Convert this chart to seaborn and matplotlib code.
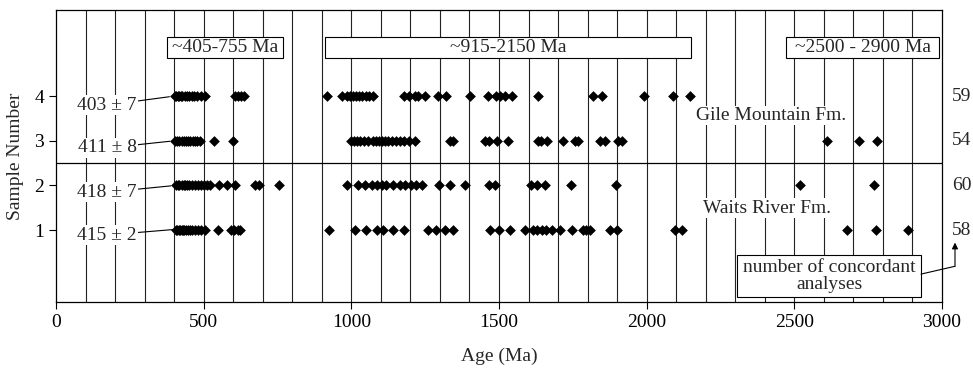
import matplotlib
matplotlib.use("Agg")
import matplotlib.pyplot as plt
import matplotlib.transforms as mtransforms
from matplotlib.patches import Rectangle
import numpy as np
import pandas as pd
import seaborn as sns

# ---------------- data ----------------
sample_numbers = [1, 2, 3, 4]

ages_sample1 = [405, 410, 415, 420, 425, 430, 435, 440, 447, 455, 462, 470, 480, 490, 503,
                549, 592, 602, 615, 622, 924,
                1012, 1050, 1087, 1107, 1141, 1178, 1260, 1287, 1317, 1345,
                1470, 1500, 1537, 1588, 1615, 1630, 1645, 1660, 1680, 1707, 1747,
                1785, 1795, 1808, 1876, 1900, 2096, 2120, 2679, 2777, 2885]
ages_sample2 = [406, 412, 418, 425, 432, 438, 445, 452, 460, 470, 480, 490, 500, 510, 522,
                552, 579, 606, 674, 687, 755, 985,
                1023, 1046, 1070, 1087, 1105, 1118, 1141, 1165, 1182, 1203, 1219, 1240,
                1297, 1334, 1385, 1466, 1487, 1608, 1629, 1656, 1744, 1896, 2519, 2770]
ages_sample3 = [403, 410, 418, 425, 432, 440, 448, 455, 463, 470, 478, 487, 535, 600,
                1000, 1010, 1020, 1030, 1042, 1055, 1075, 1085, 1095, 1105, 1115, 1125,
                1138, 1150, 1165, 1180, 1195, 1216, 1335, 1345, 1453, 1465, 1493, 1531,
                1632, 1642, 1663, 1717, 1757, 1768, 1842, 1859, 1903, 1917,
                2611, 2719, 2780]
ages_sample4 = [403, 408, 413, 418, 423, 428, 436, 445, 452, 460, 468, 478, 490, 503,
                605, 615, 625, 638, 917,
                970, 985, 995, 1005, 1015, 1025, 1035, 1048, 1060, 1072,
                1180, 1195, 1215, 1225, 1250, 1292, 1322, 1402,
                1462, 1490, 1505, 1520, 1545, 1632, 1818, 1849, 1991, 2089, 2147]

concordant_counts = [58, 60, 54, 59]
mean_age_labels = ["415 \u00b1 2", "418 \u00b1 7", "411 \u00b1 8", "403 \u00b1 7"]
formation_labels = ["Waits River Fm.", "Gile Mountain Fm."]
range_labels = ["~405-755 Ma", "~915-2150 Ma", "~2500 - 2900 Ma"]
x_ticks = [0, 500, 1000, 1500, 2000, 2500, 3000]
y_ticks = [1, 2, 3, 4]

# ---------------- build table ----------------
all_ages = [ages_sample1, ages_sample2, ages_sample3, ages_sample4]
df = pd.DataFrame({
    "age": np.concatenate(all_ages),
    "sample": np.concatenate([[s] * len(a) for s, a in zip(sample_numbers, all_ages)]),
})

# ---------------- style ----------------
sns.set_style("ticks")
plt.rcParams["font.family"] = ["Liberation Serif", "DejaVu Serif"]
plt.rcParams["mathtext.fontset"] = "stix"
FS = 14

fig = plt.figure(figsize=(9.73, 3.76), dpi=100)
ax = fig.add_axes([56 / 973, 74 / 376, 886 / 973, 292 / 376])

# vertical grid every 100 Ma
for gx in range(100, 3000, 100):
    ax.axvline(gx, color="#222222", lw=0.8, zorder=1)
ax.axhline(2.5, color="black", lw=0.9, zorder=1)

sns.scatterplot(data=df, x="age", y="sample", marker="D", s=30, color="black",
                edgecolor="black", linewidth=0, legend=False, ax=ax, zorder=5)

ax.set_xlim(0, 3000)
ax.set_ylim(-0.61, 5.93)
ax.set_xticks(x_ticks)
ax.set_yticks(y_ticks)
ax.tick_params(direction="out", length=5, width=0.8, labelsize=FS, colors="black")
for sp in ax.spines.values():
    sp.set_visible(True)
    sp.set_color("black")
    sp.set_linewidth(0.9)

ax.set_xlabel("Age (Ma)", fontsize=FS)
ax.set_ylabel("Sample Number", fontsize=FS)
ax.xaxis.set_label_coords(0.5, -0.155)
ax.yaxis.set_label_coords(-0.036, 0.5)

white = dict(facecolor="white", edgecolor="none", pad=1)

# mean-age labels with leader lines
label_pos = [(173, 0.89, 410, 1.02), (173, 1.85, 403, 2.0),
             (173, 2.84, 400, 3.0), (173, 3.80, 398, 4.0)]
for lab, (tx, ty, px, py) in zip(mean_age_labels, label_pos):
    ax.annotate(lab, xy=(px, py), xytext=(tx, ty), ha="center", va="center",
                fontsize=FS, bbox=white, zorder=6,
                arrowprops=dict(arrowstyle="-", lw=0.8, color="black",
                                shrinkA=0, shrinkB=3))

# formation labels
ax.text(2408, 1.49, formation_labels[0], ha="center", va="center", fontsize=FS,
        bbox=white, zorder=6)
ax.text(2422, 3.57, formation_labels[1], ha="center", va="center", fontsize=FS,
        bbox=white, zorder=6)

# age-range boxes
range_boxes = [(375, 768), (910, 2151), (2472, 2990)]
for lab, (x0, x1) in zip(range_labels, range_boxes):
    ax.add_patch(Rectangle((x0, 4.85), x1 - x0, 0.47, facecolor="white",
                           edgecolor="black", lw=0.8, zorder=6))
    ax.text((x0 + x1) / 2, 5.085, lab, ha="center", va="center", fontsize=FS, zorder=7)

# concordant counts on the right
trans = mtransforms.blended_transform_factory(ax.transAxes, ax.transData)
for s, n in zip(sample_numbers, concordant_counts):
    ax.text(1.011, s, str(n), transform=trans, ha="left", va="center", fontsize=FS)

# legend box for counts
ax.add_patch(Rectangle((2306, -0.50), 2929 - 2306, 0.94, facecolor="white",
                       edgecolor="black", lw=0.8, zorder=6))
ax.text(2618, -0.03, "number of concordant\nanalyses", ha="center", va="center",
        fontsize=FS, linespacing=1.0, zorder=7)
ax.plot([2929, 3044], [0.015, 0.19], color="black", lw=0.8, clip_on=False, zorder=7)
ax.annotate("", xy=(3044, 0.72), xytext=(3044, 0.19), annotation_clip=False,
            arrowprops=dict(arrowstyle="-|>", lw=0.8, color="black",
                            mutation_scale=9, shrinkA=0, shrinkB=0))

fig.savefig("out.png", dpi=100)
